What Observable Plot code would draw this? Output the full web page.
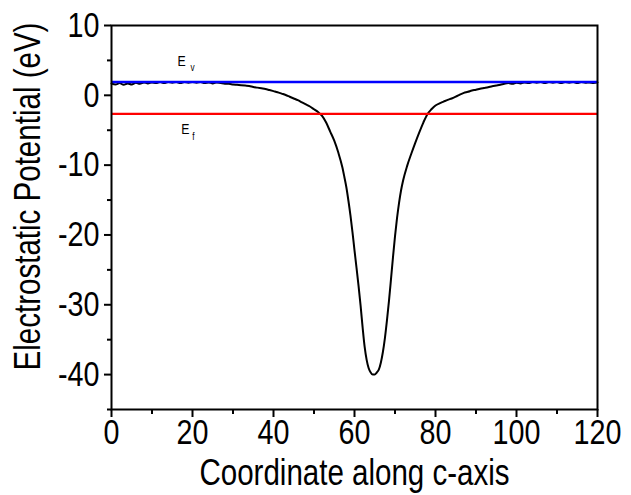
<!DOCTYPE html>
<html><head><meta charset="utf-8">
<script src="https://cdn.jsdelivr.net/npm/d3@7"></script>
<script src="https://cdn.jsdelivr.net/npm/@observablehq/plot@0.6"></script>
<style>body{margin:0;background:#fff}</style>
</head><body><div id="chart"></div>
<script>
const coord = [0,1,2,3,4,5,6,7,8,9,10,11,12,13,14,15,16,17,18,19,20,21,22,23,24,25,26,27,28,29,30,31,32,33,34,35,36,37,38,39,40,41,42,43,44,45,46,47,48,49,50,51,52,53,54,55,56,57,57.5,58,58.5,59,59.5,60,60.5,61,61.5,62,62.5,63,63.5,64,64.5,65,65.5,66,66.5,67,67.5,68,68.5,69,69.5,70,70.5,71,71.5,72,73,74,75,76,77,78,79,80,81,82,83,84,85,86,87,88,89,90,91,92,93,94,95,96,97,98,99,100,101,102,103,104,105,106,107,108,109,110,111,112,113,114,115,116,117,118,119,120];
const potential = [1.7,1.55,1.75,1.5,1.7,1.55,1.8,1.65,1.85,1.7,1.85,1.75,1.9,1.75,1.9,1.8,1.9,1.75,1.9,1.8,1.9,1.8,1.9,1.75,1.85,1.7,1.85,1.75,1.65,1.65,1.55,1.5,1.45,1.4,1.35,1.2,1.1,1.0,0.9,0.75,0.6,0.45,0.25,0.05,-0.2,-0.45,-0.7,-1.0,-1.3,-1.6,-2.0,-2.4,-2.95,-3.9,-5.2,-6.5,-8.2,-10.3,-11.7,-13.2,-15.1,-17.2,-19.6,-22.2,-24.7,-27.3,-30.1,-33.2,-36.0,-37.9,-39.1,-39.7,-40,-40,-39.7,-39.3,-38.3,-36.8,-34.8,-32.3,-29.5,-26.4,-23.2,-20.2,-17.6,-15.4,-13.6,-12.2,-10.1,-8.4,-6.8,-5.3,-3.9,-2.7,-2.0,-1.45,-1.15,-0.9,-0.65,-0.45,-0.2,0.1,0.35,0.5,0.7,0.8,0.95,1.05,1.15,1.3,1.4,1.5,1.65,1.75,1.65,1.8,1.7,1.85,1.75,1.9,1.8,1.9,1.75,1.9,1.8,1.9,1.75,1.9,1.8,1.9,1.75,1.9,1.8,1.85,1.75,1.85];
const Ev = 1.9;
const Ef = -2.65;
const xMajor = [0,20,40,60,80,100,120];
const xMinor = [10,30,50,70,90,110];
const yMajor = [10,0,-10,-20,-30,-40];
const yMinor = [5,-5,-15,-25,-35,-45];
const xTitle = "Coordinate along c-axis";
const yTitle = "Electrostatic Potential (eV)";
const levelLabels = [
  {main: "E", sub: "v", value: Ev, x: 16.3},
  {main: "E", sub: "f", value: Ef, x: 17.2}
];

const data = coord.map((x, i) => ({x, y: potential[i]}));
const font = "'Liberation Sans', Arial, sans-serif";
const vLab = levelLabels.filter(d => d.sub === "v");
const fLab = levelLabels.filter(d => d.sub === "f");

const chart = Plot.plot({
  width: 631, height: 495,
  marginLeft: 111, marginRight: 34, marginTop: 25, marginBottom: 86,
  style: {fontFamily: font, background: "#fff", color: "#000", overflow: "visible"},
  x: {domain: [0, 120]},
  y: {domain: [-45, 10]},
  marks: [
    Plot.line(data, {x: "x", y: "y", stroke: "#000", strokeWidth: 2, curve: "monotone-x"}),
    Plot.ruleY([Ev], {stroke: "#0000ff", strokeWidth: 2.6}),
    Plot.ruleY([Ef], {stroke: "#ff0000", strokeWidth: 2.2}),
    Plot.frame({stroke: "#000", strokeWidth: 2}),
    Plot.axisX(xMajor, {tickSize: 8, tickPadding: 2, fontSize: 35, tickFormat: String, strokeWidth: 2, label: null}),
    Plot.axisX(xMinor, {tickSize: 5, tickFormat: () => "", strokeWidth: 2, label: null}),
    Plot.axisY(yMajor, {tickSize: 7, tickPadding: 5, fontSize: 35, tickFormat: String, strokeWidth: 2, label: null}),
    Plot.axisY(yMinor, {tickSize: 4, tickFormat: () => "", strokeWidth: 2, label: null}),
    Plot.text([xTitle], {frameAnchor: "bottom", dy: 75, fontSize: 36, lineAnchor: "bottom", textAnchor: "middle"}),
    Plot.text([yTitle], {frameAnchor: "left", rotate: -90, dx: -83, dy: -21, fontSize: 36, lineAnchor: "middle", textAnchor: "middle"}),
    Plot.text(vLab, {x: "x", y: "value", text: "main", dy: -16, textAnchor: "start", lineAnchor: "bottom", fontSize: 15}),
    Plot.text(vLab, {x: "x", y: "value", text: "sub", dx: 13, dy: -11, textAnchor: "start", lineAnchor: "bottom", fontSize: 10}),
    Plot.text(fLab, {x: "x", y: "value", text: "main", dy: 20, textAnchor: "start", lineAnchor: "bottom", fontSize: 15}),
    Plot.text(fLab, {x: "x", y: "value", text: "sub", dx: 11, dy: 26, textAnchor: "start", lineAnchor: "bottom", fontSize: 10})
  ]
});
document.getElementById("chart").appendChild(chart);
// condense the text horizontally (Arial Narrow look), keeping each anchor in place
chart.querySelectorAll("text").forEach(t => {
  const w = t.getComputedTextLength();
  if (w > 0) {
    t.setAttribute("lengthAdjust", "spacingAndGlyphs");
    t.setAttribute("textLength", (w * 0.82).toFixed(2));
  }
});
</script>
</body></html>
